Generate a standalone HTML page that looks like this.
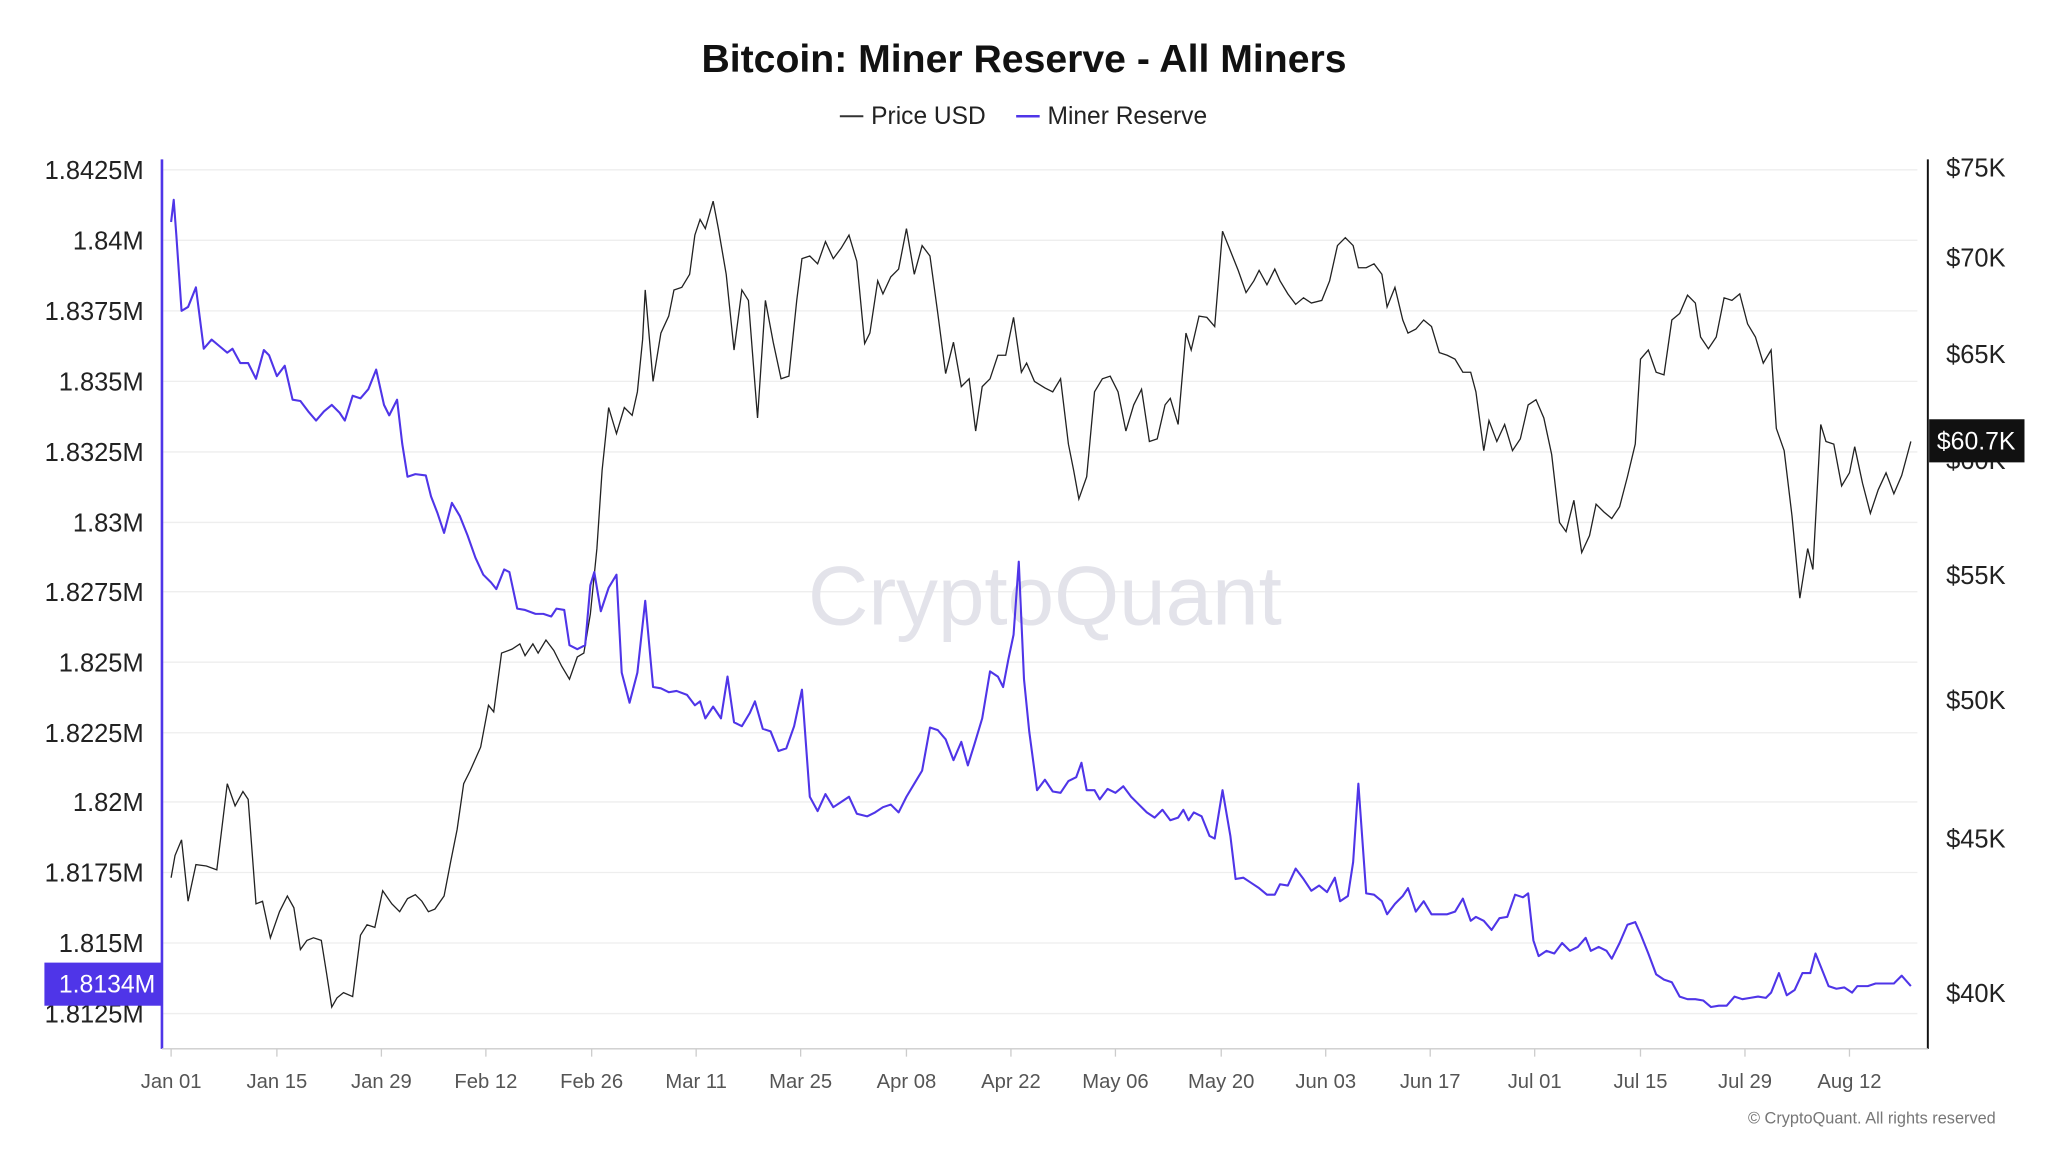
<!DOCTYPE html>
<html><head><meta charset="utf-8"><style>
html,body{margin:0;padding:0;background:#fff;width:2048px;height:1152px;overflow:hidden}
svg{display:block}
text{font-family:"Liberation Sans",sans-serif}
</style></head><body>
<svg width="2048" height="1152" viewBox="0 0 1568 882" preserveAspectRatio="none">
<rect width="1568" height="882" fill="#fff"/>
<text x="784" y="55" text-anchor="middle" font-size="30" font-weight="bold" fill="#111">Bitcoin: Miner Reserve - All Miners</text>
<line x1="643" y1="89" x2="661" y2="89" stroke="#333" stroke-width="1.5"/>
<text x="667" y="95" font-size="18.8" fill="#222">Price USD</text>
<line x1="778" y1="89" x2="796" y2="89" stroke="#4f35e8" stroke-width="2"/>
<text x="802" y="95" font-size="18.8" fill="#222">Miner Reserve</text>
<g stroke="#eee" stroke-width="1">
<line x1="125" x2="1468" y1="130" y2="130"/><line x1="125" x2="1468" y1="184" y2="184"/><line x1="125" x2="1468" y1="238" y2="238"/><line x1="125" x2="1468" y1="292" y2="292"/><line x1="125" x2="1468" y1="346" y2="346"/><line x1="125" x2="1468" y1="400" y2="400"/><line x1="125" x2="1468" y1="453" y2="453"/><line x1="125" x2="1468" y1="507" y2="507"/><line x1="125" x2="1468" y1="561" y2="561"/><line x1="125" x2="1468" y1="614" y2="614"/><line x1="125" x2="1468" y1="668" y2="668"/><line x1="125" x2="1468" y1="722" y2="722"/><line x1="125" x2="1468" y1="776" y2="776"/>
</g>
<text x="800" y="478" text-anchor="middle" font-size="64" fill="#e3e3ea">CryptoQuant</text>
<g font-size="19.5" fill="#222" text-anchor="end">
<text x="110" y="137">1.8425M</text><text x="110" y="191">1.84M</text><text x="110" y="245">1.8375M</text><text x="110" y="299">1.835M</text><text x="110" y="353">1.8325M</text><text x="110" y="407">1.83M</text><text x="110" y="460">1.8275M</text><text x="110" y="514">1.825M</text><text x="110" y="568">1.8225M</text><text x="110" y="621">1.82M</text><text x="110" y="675">1.8175M</text><text x="110" y="729">1.815M</text><text x="110" y="783">1.8125M</text>
</g>
<g font-size="19.5" fill="#222">
<text x="1490" y="135">$75K</text><text x="1490" y="204">$70K</text><text x="1490" y="278">$65K</text><text x="1490" y="359">$60K</text><text x="1490" y="447">$55K</text><text x="1490" y="543">$50K</text><text x="1490" y="649">$45K</text><text x="1490" y="767">$40K</text>
</g>
<line x1="124" y1="122" x2="124" y2="803" stroke="#4f35e8" stroke-width="2"/>
<line x1="1476" y1="122" x2="1476" y2="803" stroke="#111" stroke-width="1.5"/>
<line x1="124" y1="803" x2="1476" y2="803" stroke="#ccc" stroke-width="1"/>
<g stroke="#ccc"><line x1="131" x2="131" y1="803" y2="809"/><line x1="212" x2="212" y1="803" y2="809"/><line x1="292" x2="292" y1="803" y2="809"/><line x1="372" x2="372" y1="803" y2="809"/><line x1="453" x2="453" y1="803" y2="809"/><line x1="533" x2="533" y1="803" y2="809"/><line x1="613" x2="613" y1="803" y2="809"/><line x1="694" x2="694" y1="803" y2="809"/><line x1="774" x2="774" y1="803" y2="809"/><line x1="854" x2="854" y1="803" y2="809"/><line x1="935" x2="935" y1="803" y2="809"/><line x1="1015" x2="1015" y1="803" y2="809"/><line x1="1095" x2="1095" y1="803" y2="809"/><line x1="1175" x2="1175" y1="803" y2="809"/><line x1="1256" x2="1256" y1="803" y2="809"/><line x1="1336" x2="1336" y1="803" y2="809"/><line x1="1416" x2="1416" y1="803" y2="809"/></g>
<g font-size="15.5" fill="#555" text-anchor="middle">
<text x="131" y="833">Jan 01</text><text x="212" y="833">Jan 15</text><text x="292" y="833">Jan 29</text><text x="372" y="833">Feb 12</text><text x="453" y="833">Feb 26</text><text x="533" y="833">Mar 11</text><text x="613" y="833">Mar 25</text><text x="694" y="833">Apr 08</text><text x="774" y="833">Apr 22</text><text x="854" y="833">May 06</text><text x="935" y="833">May 20</text><text x="1015" y="833">Jun 03</text><text x="1095" y="833">Jun 17</text><text x="1175" y="833">Jul 01</text><text x="1256" y="833">Jul 15</text><text x="1336" y="833">Jul 29</text><text x="1416" y="833">Aug 12</text>
</g>
<text x="1528" y="860" text-anchor="end" font-size="12.5" fill="#777">© CryptoQuant. All rights reserved</text>
<polyline fill="none" stroke="#222" stroke-width="1" points="131,672 134,655 139,643 144,690 150,662 158,663 166,666 174,600 180,617 186,606 190,612 196,692 201,690 207,718 214,698 220,686 225,695 230,727 235,720 240,718 246,720 250,745 254,771 258,764 263,760 270,763 276,716 281,708 287,710 293,682 300,692 306,698 312,688 318,685 323,690 328,698 333,696 340,686 345,660 350,635 355,600 360,590 368,572 374,540 378,545 384,500 392,497 398,493 402,502 408,493 412,500 418,490 424,498 430,510 436,520 442,503 447,500 452,470 457,420 461,360 466,312 472,332 478,312 484,318 488,300 492,260 494,222 500,292 506,255 512,242 516,222 522,220 528,210 532,180 536,168 540,175 546,154 550,175 556,210 562,268 568,222 573,230 580,320 586,230 592,262 598,290 604,288 610,230 614,198 620,196 626,202 632,185 638,198 644,190 650,180 656,200 662,263 666,255 672,215 676,225 682,212 688,206 694,175 700,210 706,188 712,196 718,240 724,286 730,262 736,296 742,290 747,330 752,296 758,290 764,272 770,272 776,243 782,285 786,278 792,292 800,297 806,300 812,290 818,340 822,360 826,382 832,365 838,300 844,290 850,288 856,300 862,330 868,310 874,298 880,338 886,336 892,310 896,305 902,325 908,255 912,268 918,242 924,243 930,250 936,177 942,192 948,207 954,224 960,215 964,207 970,218 976,206 980,215 986,225 992,233 998,228 1004,232 1012,230 1018,215 1024,188 1030,182 1036,188 1040,205 1046,205 1052,202 1058,210 1062,235 1068,220 1074,245 1078,255 1084,252 1090,245 1096,250 1102,270 1108,272 1114,275 1120,285 1126,285 1130,300 1136,345 1140,322 1146,338 1152,325 1158,345 1164,336 1170,310 1176,306 1182,320 1188,348 1194,400 1199,407 1205,383 1211,423 1217,410 1222,386 1228,392 1234,397 1240,388 1246,365 1252,340 1256,275 1262,268 1268,285 1274,287 1280,245 1286,240 1292,226 1298,232 1302,258 1308,267 1314,258 1320,228 1326,230 1332,225 1338,248 1344,258 1350,278 1356,268 1360,328 1366,345 1372,395 1378,458 1384,420 1388,436 1394,325 1398,338 1404,340 1410,372 1416,362 1420,342 1426,370 1432,393 1438,375 1444,362 1450,378 1456,364 1463,338"/>
<polyline fill="none" stroke="#4f35e8" stroke-width="1.6" stroke-linejoin="round" points="131,170 133,153 135,180 139,238 144,235 150,220 156,267 162,260 168,265 174,270 178,267 184,278 190,278 196,290 202,268 206,272 212,288 218,280 224,306 230,307 236,315 242,322 248,315 254,310 260,316 264,322 270,303 276,305 282,298 288,283 294,310 298,318 304,306 308,340 312,365 318,363 326,364 330,380 335,393 340,408 346,385 352,395 358,410 364,427 370,440 376,446 380,451 386,436 390,438 396,466 402,467 410,470 416,470 422,472 426,466 432,467 436,494 442,497 448,494 452,448 455,438 460,468 466,450 472,440 476,515 482,538 488,515 494,460 500,526 506,527 512,530 518,529 526,532 532,540 536,537 540,550 546,541 552,550 557,518 562,553 568,556 574,546 578,537 584,558 590,560 596,575 602,573 608,556 614,528 620,610 626,621 632,608 638,618 644,614 650,610 656,623 664,625 670,622 676,618 682,616 688,622 694,610 700,600 706,590 712,557 718,559 724,566 730,582 736,568 741,586 746,570 752,550 758,514 764,518 768,526 772,505 776,486 780,430 784,520 788,560 794,605 800,597 806,606 812,607 818,598 824,595 828,584 832,605 838,605 842,612 848,604 854,607 860,602 866,610 872,616 878,622 884,626 890,620 896,628 902,626 906,620 910,628 914,622 920,625 926,640 930,642 936,605 942,640 946,673 952,672 958,676 964,680 970,685 976,685 980,677 986,678 992,665 998,673 1004,682 1010,678 1016,683 1022,672 1026,690 1032,686 1036,660 1040,600 1046,684 1052,685 1058,690 1062,700 1068,692 1074,686 1078,680 1084,698 1090,690 1096,700 1102,700 1108,700 1114,698 1120,688 1126,705 1130,702 1136,705 1142,712 1148,703 1154,702 1160,685 1166,687 1170,684 1174,720 1178,732 1184,728 1190,730 1196,722 1202,728 1208,725 1214,718 1218,728 1224,725 1230,728 1234,734 1240,722 1246,708 1252,706 1256,715 1262,730 1268,746 1274,750 1280,752 1286,763 1292,765 1298,765 1304,766 1310,771 1316,770 1322,770 1328,763 1334,765 1340,764 1346,763 1352,764 1356,760 1362,745 1368,762 1374,758 1380,745 1386,745 1390,730 1394,740 1400,755 1406,757 1412,756 1418,760 1422,755 1430,755 1436,753 1444,753 1450,753 1456,747 1463,755"/>
<rect x="34" y="737" width="90" height="33" fill="#4f35e8"/>
<text x="82" y="760" text-anchor="middle" font-size="19" fill="#fff">1.8134M</text>
<rect x="1477" y="321" width="73" height="33" fill="#111"/>
<text x="1513" y="344" text-anchor="middle" font-size="19" fill="#fff">$60.7K</text>
</svg>
</body></html>
